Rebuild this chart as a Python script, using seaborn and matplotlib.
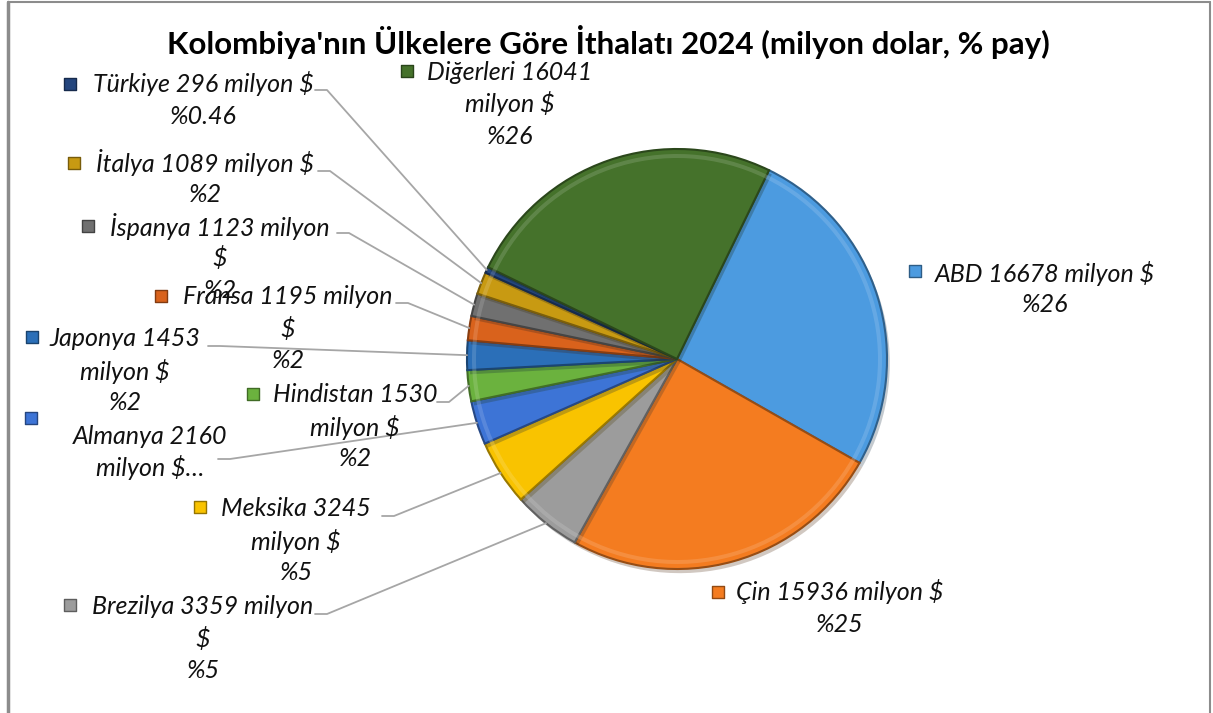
import numpy as np
import matplotlib
matplotlib.use("Agg")
import matplotlib.pyplot as plt
import matplotlib.colors as mcolors
import matplotlib.patheffects as pe
import seaborn as sns

# data, clockwise order of the slices
countries = ["ABD", "Çin", "Brezilya", "Meksika", "Almanya", "Hindistan",
             "Japonya", "Fransa", "İspanya", "İtalya", "Türkiye", "Diğerleri"]
values = [16678, 15936, 3359, 3245, 2160, 1530, 1453, 1195, 1123, 1089, 296, 16041]
labels = ["ABD 16678 milyon $\n%26",
          "Çin 15936 milyon $\n%25",
          "Brezilya 3359 milyon\n$\n%5",
          "Meksika 3245\nmilyon $\n%5",
          "Almanya 2160\nmilyon $…",
          "Hindistan 1530\nmilyon $\n%2",
          "Japonya 1453\nmilyon $\n%2",
          "Fransa 1195 milyon\n$\n%2",
          "İspanya 1123 milyon\n$\n%2",
          "İtalya 1089 milyon $\n%2",
          "Türkiye 296 milyon $\n%0.46",
          "Diğerleri 16041\nmilyon $\n%26"]
colors = ["#4C9BE0", "#F47C20", "#9C9C9C", "#F9C300", "#3D74D6", "#6BB23E",
          "#2B6FB8", "#D9621C", "#707070", "#C89A12", "#24467E", "#45722B"]
title = "Kolombiya'nın Ülkelere Göre İthalatı 2024 (milyon dolar, % pay)"

sns.set_theme(style="white")
plt.rcParams["font.family"] = ["Lato", "DejaVu Sans"]

W, H = 1213, 713
fig = plt.figure(figsize=(W / 100, H / 100), dpi=100)
ax = fig.add_axes([0, 0, 1, 1])

def Y(py):
    return H - py

cx, cy, R = 677, Y(359), 210

wedges, _ = ax.pie(values, colors=colors, startangle=64, counterclock=False,
                   center=(cx, cy), radius=R,
                   wedgeprops=dict(linewidth=1.5))
for w, c in zip(wedges, colors):
    w.set_edgecolor(np.array(mcolors.to_rgb(c)) * 0.62)
    w.set_path_effects([pe.SimplePatchShadow(offset=(2, -3), alpha=0.25), pe.Normal()])

# soft bevel: light band just inside the rim
light = [tuple(np.clip(np.array(mcolors.to_rgb(c)) * 0.6 + 0.4, 0, 1)) for c in colors]
ax.pie(values, colors=light, startangle=64, counterclock=False,
       center=(cx, cy), radius=R - 5, wedgeprops=dict(width=4, linewidth=0, alpha=0.35))

ax.set_xlim(0, W)
ax.set_ylim(0, H)
ax.set_aspect("equal")
ax.axis("off")

# label layout in pixels: text centre x, first line y, key x, key y, leader start (x, y) or None
layout = {
    "ABD":       (1045, 273, 915, 271, None),
    "Çin":       (840, 592, 718, 592, None),
    "Brezilya":  (203, 607, 70, 605, (315, 614)),
    "Meksika":   (296, 509, 200, 507, (382, 516)),
    "Almanya":   (150, 436, 31, 418, (218, 459)),
    "Hindistan": (355, 395, 253, 394, (437, 402)),
    "Japonya":   (125, 339, 32, 337, (208, 346)),
    "Fransa":    (288, 297, 161, 296, (396, 303)),
    "İspanya":   (220, 226, 88, 226, (337, 233)),
    "İtalya":    (205, 163, 74, 163, (318, 171)),
    "Türkiye":   (203, 84, 70, 84, (315, 90)),
    "Diğerleri": (510, 72, 407, 71, None),
}

line_h = 32
for w, name, lab, c in zip(wedges, countries, labels, colors):
    tx, ty, kx, ky, lead = layout[name]
    for i, ln in enumerate(lab.split("\n")):
        ax.text(tx, Y(ty + i * line_h), ln, ha="center", va="center",
                fontsize=18, style="italic", color="#111111")
    ax.scatter([kx], [Y(ky)], marker="s", s=75, color=c,
               edgecolor=np.array(mcolors.to_rgb(c)) * 0.6, linewidth=1)
    if lead is not None:
        mid = np.deg2rad((w.theta1 + w.theta2) / 2)
        ex, ey = cx + R * np.cos(mid), cy + R * np.sin(mid)
        sx, sy = lead
        ax.plot([sx, sx + 12, ex], [Y(sy), Y(sy), ey], color="#A6A6A6", lw=1.3)

ax.text(W / 2 + 2, Y(42), title, ha="center", va="center",
        fontsize=22.5, fontweight="bold", color="#000000")

# chart border
ax.plot([8, 8], [0, Y(2)], color="#8C8C8C", lw=2.5, clip_on=False)
ax.plot([8, 1210], [Y(2), Y(2)], color="#8C8C8C", lw=1.5, clip_on=False)
ax.plot([1210, 1210], [0, Y(2)], color="#8C8C8C", lw=1.5, clip_on=False)

fig.savefig("out.png", dpi=100)
